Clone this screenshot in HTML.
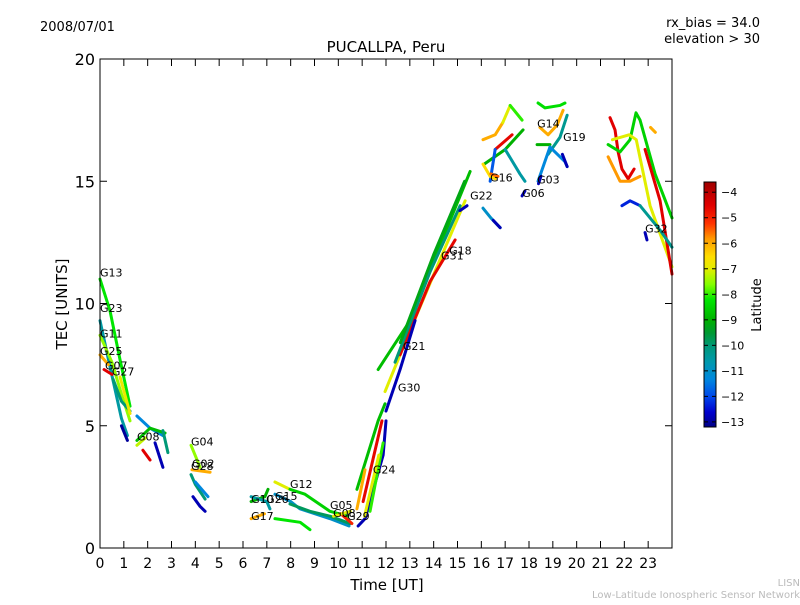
<!DOCTYPE html>
<html><head><meta charset="utf-8"><style>
body{margin:0;background:#fff;}
svg text{font-family:"DejaVu Sans","Liberation Sans",sans-serif;}
</style></head><body>
<svg id="chart" width="800" height="600" xmlns="http://www.w3.org/2000/svg">
<rect width="800" height="600" fill="#fff"/>
<text x="40" y="31" font-size="13">2008/07/01</text>
<text x="760" y="27" font-size="13" text-anchor="end">rx_bias = 34.0</text>
<text x="760" y="43" font-size="13" text-anchor="end">elevation &gt; 30</text>
<text x="386" y="52" font-size="15" text-anchor="middle">PUCALLPA, Peru</text>
<text x="387" y="590" font-size="15" text-anchor="middle">Time [UT]</text>
<text transform="translate(67,304) rotate(-90)" font-size="15" text-anchor="middle">TEC [UNITS]</text>
<text x="800" y="586" font-size="10" fill="#bbb" text-anchor="end">LISN</text>
<text x="800" y="598" font-size="10" fill="#bbb" text-anchor="end">Low-Latitude Ionospheric Sensor Network</text>
<g id="marks"></g>
<g id="labels"></g>
<rect x="100" y="59" width="572" height="489" fill="none" stroke="#000" stroke-width="1"/>
<g id="axes"></g>
<g id="cbar"></g>
<text transform="translate(761,305) rotate(-90)" font-size="13" text-anchor="middle">Latitude</text>
</svg>
<script>
const trackTimes=[
[0,.42,.84,1.26],[0,.4,.9,1.15],[.9,1.15],[0,.5,.9,1.26],[0,.35],[.17,.5],[.55,.9,1.26],[.84,1.26],
[1.55,2.1,2.64],[1.55,2.1,2.73],[1.55,1.9],[1.8,2.1],[2.31,2.64],[2.64,2.85],
[3.82,4.2],[3.86,4.62],[3.82,4.0,4.41],[3.9,4.2,4.41],[4.0,4.53],
[6.34,6.92,7.05],[6.34,7.0,7.13],[6.34,6.9],[7.34,7.97],[7.97,8.6,9.65,10.4],[7.34,8.0,8.39,9.65,10.45],[7.34,8.4,8.81],[7.97,8.81,9.65,10.49],[10.1,10.57],[9.8,10.5],
[10.83,11.12,11.88,12.0],[10.78,11.67,11.96],[11.04,11.83],[11.33,11.88],[10.78,11.12],[11.1,11.7],
[11.67,13.01,14.27,15.53],[11.96,13.01,14.27,15.32],[12.59,13.85,14.9],[12.0,12.59,13.22],[12.38,13.85,15.11],[12.6,14.0,15.3],
[16.07,16.58,16.9],[16.9,17.21],[17.21,17.71],[16.12,17.0,17.75],[16.58,17.29],[16.37,16.58],[17.0,17.62,17.83],[16.07,16.37,16.58],[16.4,16.7],[17.71,17.83],
[18.38,18.67,19.3,19.51],[18.46,18.8,19.18,19.43],[18.8,19.3,19.6],[18.34,18.88],[18.38,18.88],[18.88,19.51,19.6],[19.4,19.6],[18.4,18.5],
[21.4,21.61,21.74,21.9,22.16,22.41],[21.32,21.82,22.24,22.49,22.66,23.29,24.0],[21.5,22.2,22.5,23.08,24.0],[22.87,23.5,24.0],[21.32,21.82,22.24,22.66],[21.9,22.24,22.66],[22.66,23.08,23.5,24.0],[23.1,23.3],[22.87,22.95],
[16.07,16.4,16.79],[16.5,16.79],[15.1,15.4]
];
const trackTec=[
[11.0,9.7,7.7,5.8],[9.3,7.5,5.3,4.6],[5.0,4.4],[8.7,7.6,6.3,5.2],[7.9,7.5],[7.3,7.1],[6.9,6.0,5.6],[7.0,5.5],
[5.4,4.9,4.6],[4.4,4.9,4.7],[4.2,4.5],[4.0,3.6],[4.3,3.3],[4.8,3.9],
[4.2,3.3],[3.2,3.1],[3.0,2.6,2.0],[2.1,1.7,1.5],[2.7,2.1],
[1.9,2.1,2.4],[2.1,1.9,1.6],[1.2,1.4],[2.7,2.4],[2.4,2.2,1.5,1.3],[2.2,1.9,1.6,1.2,0.9],[1.2,1.05,0.75],[1.8,1.5,1.3,1.0],[1.4,1.0],[1.3,1.5],
[0.9,1.2,3.8,5.2],[2.4,5.2,5.9],[1.9,5.2],[1.5,4.3],[1.6,3.2],[1.3,3.8],
[7.3,9.3,12.4,15.4],[6.4,8.9,11.8,14.2],[7.9,10.9,12.6],[5.6,7.3,9.3],[7.6,11.3,14.0],[8.4,12.0,15.0],
[16.7,16.9,17.4],[17.4,18.1],[18.1,17.5],[15.7,16.3,17.1],[16.3,16.9],[15.0,16.3],[16.3,15.3,15.0],[15.7,15.2,15.1],[15.3,15.2],[14.4,14.6],
[18.2,18.0,18.1,18.2],[17.2,16.9,17.3,17.9],[16.1,16.8,17.7],[16.5,16.5],[15.0,16.4],[16.4,15.8,15.6],[16.1,15.6],[14.9,15.2],
[17.6,17.1,16.2,15.5,15.1,15.5],[16.5,16.2,16.7,17.8,17.5,15.3,13.5],[16.7,16.9,16.7,14.0,11.5],[16.3,14.2,11.2],[16.0,15.0,15.0,15.2],[14.0,14.2,14.0],[14.0,13.5,13.0,12.3],[17.2,17.0],[12.9,12.6],
[13.9,13.5,13.1],[13.4,13.1],[13.8,14.0]
];
const trackLat=[-8.2,-10.5,-13,-7.5,-6,-4.5,-10,-6.8,
-11.3,-8.8,-7.2,-4.5,-12.8,-10,
-7.5,-6,-10,-12.8,-11.3,
-9,-10.5,-6,-7,-8.5,-11,-8.2,-9.8,-5,-7,
-12.8,-8.8,-4.6,-8,-6,-7,
-8.8,-7,-4.6,-12.8,-10,-9.2,
-6,-7,-8,-9,-4.6,-11.8,-10.5,-6.5,-5.5,-12.8,
-8.3,-6,-10.3,-9,-11.3,-11.3,-12.8,-12.8,
-4.5,-8.5,-7,-4.5,-5.8,-12.3,-10.3,-6,-12.8,
-11,-12.8,-12.8];
const satNames=["G13","G23","G11","G25","G07","G27","G08","G04","G02","G28","G10","G26","G15","G12","G17","G05","G08","G29","G24","G30","G21","G31","G18","G22","G16","G06","G03","G14","G19","G32"];
const satTimes=[0,0,0,0,0.21,0.5,1.55,3.82,3.86,3.82,6.34,6.97,7.34,7.97,6.34,9.65,9.78,10.37,11.45,12.5,12.71,14.31,14.65,15.53,16.37,17.71,18.34,18.34,19.43,22.87];
const satTec=[11.1,9.65,8.6,7.9,7.3,7.05,4.4,4.2,3.3,3.2,1.85,1.85,1.96,2.45,1.15,1.6,1.27,1.15,3.05,6.4,8.1,11.8,12.0,14.25,15.0,14.35,14.9,17.2,16.65,12.9];
const latTicks=[-4,-5,-6,-7,-8,-9,-10,-11,-12,-13];
const xTicks=[0,1,2,3,4,5,6,7,8,9,10,11,12,13,14,15,16,17,18,19,20,21,22,23];
const yTicks=[0,5,10,15,20];

const NS="http://www.w3.org/2000/svg";
const X=t=>100+t*572/24, Y=v=>548-v*489/20;
const LMIN=-13.2,LMAX=-3.6;
const CB=v=>427-(v-LMIN)/(LMAX-LMIN)*245;
const cmapStops=[[-13.2,[0,0,130]],[-12.6,[0,0,205]],[-12,[0,70,235]],[-11.3,[0,136,221]],[-10.6,[0,153,170]],[-10,[0,153,119]],[-9.5,[0,153,51]],[-9,[0,176,0]],[-8.2,[0,230,0]],[-7.6,[130,255,0]],[-7,[225,238,0]],[-6.5,[255,221,0]],[-5.8,[255,153,0]],[-5.2,[255,50,0]],[-4.5,[225,0,0]],[-3.6,[160,0,0]]];
function jet(v){v=Math.max(LMIN,Math.min(LMAX,v));
 for(let i=0;i<cmapStops.length-1;i++){const a=cmapStops[i],b=cmapStops[i+1];
  if(v<=b[0]){const f=(v-a[0])/(b[0]-a[0]);const c=a[1].map((x,k)=>Math.round(x+(b[1][k]-x)*f));return `rgb(${c[0]},${c[1]},${c[2]})`;}}
 return 'rgb(160,0,0)';}
function mk(tag,a,parent){const e=document.createElementNS(NS,tag);for(const k in a)e.setAttribute(k,a[k]);parent.appendChild(e);return e;}
const marks=document.getElementById('marks');
trackTimes.forEach((ts,i)=>{
 const pl=mk('polyline',{points:ts.map((t,j)=>X(t)+','+Y(trackTec[i][j])).join(' '),fill:'none',stroke:jet(trackLat[i]),'stroke-width':3,'stroke-linecap':'round','stroke-linejoin':'round'},marks);
 
 
});
const labels=document.getElementById('labels');
satNames.forEach((n,i)=>{
 const t=mk('text',{x:X(satTimes[i]),y:Y(satTec[i]),'font-size':11},labels);t.textContent=n;
 
 
});
const axes=document.getElementById('axes');
xTicks.forEach(v=>{
 const x=X(v);
 mk('line',{x1:x,x2:x,y1:548,y2:541,stroke:'#000'},axes);
 mk('line',{x1:x,x2:x,y1:59,y2:66,stroke:'#000'},axes);
 const t=mk('text',{x:x,y:568,'font-size':14,'text-anchor':'middle'},axes);t.textContent=v;
 
 
});
yTicks.forEach(v=>{
 const y=Y(v);
 mk('line',{x1:100,x2:107,y1:y,y2:y,stroke:'#000'},axes);
 mk('line',{x1:672,x2:665,y1:y,y2:y,stroke:'#000'},axes);
 const t=mk('text',{x:95,y:y+6,'font-size':16,'text-anchor':'end'},axes);t.textContent=v;
 
 
});
const cb=document.getElementById('cbar');
for(let p=182;p<427;p++){const v=LMAX-(p-182)/245*(LMAX-LMIN);mk('rect',{x:704,y:p,width:12,height:1.2,fill:jet(v)},cb);}
mk('rect',{x:704,y:182,width:12,height:245,fill:'none',stroke:'#000'},cb);
latTicks.forEach(v=>{const y=CB(v);
 mk('line',{x1:704,x2:708,y1:y,y2:y,stroke:'#000'},cb);
 mk('line',{x1:716,x2:712,y1:y,y2:y,stroke:'#000'},cb);
 const t=mk('text',{x:721,y:y+4,'font-size':11},cb);t.textContent='\u2212'+Math.abs(v);
 
 
});
</script>
</body></html>
